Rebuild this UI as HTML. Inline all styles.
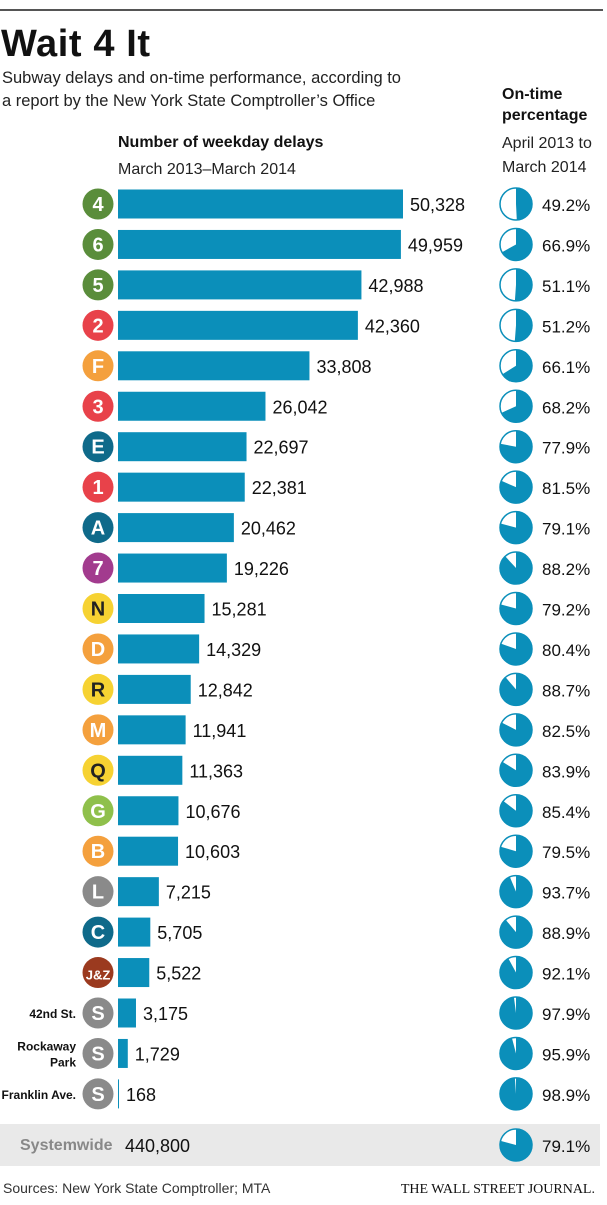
<!DOCTYPE html>
<html><head><meta charset="utf-8"><style>
body{margin:0;background:#fff;width:607px;height:1200px;overflow:hidden;font-family:"Liberation Sans",sans-serif;}
</style></head><body>
<svg width="607" height="1200" id="svg" xmlns="http://www.w3.org/2000/svg" font-family="Liberation Sans, sans-serif">
<rect x="0" y="9" width="603" height="2" fill="#555"/>
<text x="1" y="56" font-size="38" font-weight="bold" fill="#111" textLength="149">Wait 4 It</text>
<text x="2" y="83" font-size="16.5" fill="#222">Subway delays and on-time performance, according to</text>
<text x="2" y="106" font-size="16.5" fill="#222">a report by the New York State Comptroller’s Office</text>
<text x="118" y="147" font-size="16" font-weight="bold" fill="#111">Number of weekday delays</text>
<text x="118" y="174" font-size="16" fill="#222">March 2013–March 2014</text>
<text x="502" y="99" font-size="16" font-weight="bold" fill="#111">On-time</text>
<text x="502" y="120" font-size="16" font-weight="bold" fill="#111">percentage</text>
<text x="502" y="148" font-size="16" fill="#222">April 2013 to</text>
<text x="502" y="172" font-size="16" fill="#222">March 2014</text>
<rect x="0" y="1124" width="600" height="42" fill="#e9e9e9"/>
<text x="20" y="1150" font-size="16" font-weight="bold" fill="#888">Systemwide</text>
<text x="125" y="1152" font-size="18" fill="#111">440,800</text>
<text x="3" y="1193" font-size="14" fill="#333">Sources: New York State Comptroller; MTA</text>
<text x="595" y="1193" font-size="14" font-family="Liberation Serif, serif" text-anchor="end" fill="#111">THE WALL STREET JOURNAL.</text>
<g id="rows"></g>
</svg>
<script>
const lines=["4","6","5","2","F","3","E","1","A","7","N","D","R","M","Q","G","B","L","C","J&Z","S","S","S"];
const subLabels=["","","","","","","","","","","","","","","","","","","","","42nd St.","Rockaway|Park","Franklin Ave."];
const delays=[50328,49959,42988,42360,33808,26042,22697,22381,20462,19226,15281,14329,12842,11941,11363,10676,10603,7215,5705,5522,3175,1729,168];
const onTime=[49.2,66.9,51.1,51.2,66.1,68.2,77.9,81.5,79.1,88.2,79.2,80.4,88.7,82.5,83.9,85.4,79.5,93.7,88.9,92.1,97.9,95.9,98.9];
const systemOnTime=79.1;
const col={"4":"#5a8d3b","5":"#5a8d3b","6":"#5a8d3b","1":"#e8424a","2":"#e8424a","3":"#e8424a","F":"#f4a03d","D":"#f4a03d","M":"#f4a03d","B":"#f4a03d","E":"#0f6a8a","A":"#0f6a8a","C":"#0f6a8a","7":"#a23b8e","N":"#f6d232","R":"#f6d232","Q":"#f6d232","G":"#8fc04b","L":"#8a8a8a","S":"#8a8a8a","J&Z":"#9b3a1f"};
const NS="http://www.w3.org/2000/svg";
const g=document.getElementById('rows');
const x0=118, scale=285/50328, y0=204, step=40.45, blue="#0b8fba";
function xs(v){return v*scale;}
function mk(t,a){const e=document.createElementNS(NS,t);for(const k in a)e.setAttribute(k,a[k]);g.appendChild(e);return e;}
function pie(cx,cy,p,name){
  const r=16;
  const c=mk('circle',{cx:cx,cy:cy,r:r,fill:'#fff',stroke:blue,'stroke-width':1.5});
  
  
  const a=p/100*2*Math.PI;
  const ex=cx+r*Math.sin(a), ey=cy-r*Math.cos(a);
  const d=`M${cx},${cy} L${cx},${cy-r} A${r},${r} 0 ${p>50?1:0} 1 ${ex},${ey} Z`;
  const s=mk('path',{d:d,fill:blue});
  
  
}
lines.forEach((ln,i)=>{
  const cy=y0+i*step;
  const c=mk('circle',{cx:98,cy:cy,r:15.5,fill:col[ln]});
  
  
  const t=mk('text',{x:98,y:cy+7,'text-anchor':'middle','font-size':ln=="J&Z"?13:20,'font-weight':'bold',fill:(ln=="N"||ln=="R"||ln=="Q")?"#222":"#fff"});
  t.textContent=ln;
  
  
  if(subLabels[i]){
    const parts=subLabels[i].split('|');
    parts.forEach((p,j)=>{
      const st=mk('text',{x:76,y:cy+5+(parts.length>1?(j-0.5)*16:0),'text-anchor':'end','font-size':12,'font-weight':'bold',fill:'#111'});
      st.textContent=p;
      
      
    });
  }
  const w=Math.max(1,xs(delays[i]));
  const b=mk('rect',{x:x0,y:cy-14.5,width:w,height:29,fill:blue});
  
  
  const vt=mk('text',{x:x0+w+7,y:cy+7,'font-size':18,fill:'#111'});
  vt.textContent=delays[i].toLocaleString('en-US');
  
  
  pie(516,cy,onTime[i],'pie-'+ln);
  const pt=mk('text',{x:542,y:cy+7,'font-size':17,fill:'#111'});
  pt.textContent=onTime[i].toFixed(1)+'%';
  
  
});
pie(516,1145,systemOnTime,'pie-systemwide');
const st=mk('text',{x:542,y:1152,'font-size':17,fill:'#111'});
st.textContent=systemOnTime.toFixed(1)+'%';


</script>
</body></html>
